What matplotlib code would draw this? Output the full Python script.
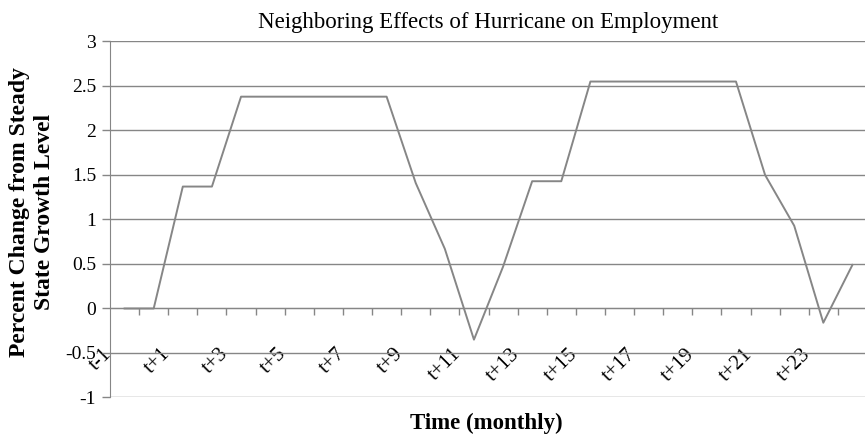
import numpy as np
import matplotlib.pyplot as plt
from matplotlib.ticker import FixedLocator, NullFormatter
import matplotlib.transforms as mtransforms

plt.rcParams['font.family'] = ['Liberation Serif', 'DejaVu Serif']

# ------------------------------
# Data
# ------------------------------
months = ['t-1', 't'] + ['t+%d' % k for k in range(1, 25)]
pct_change = [0.0, 0.0, 1.37, 1.37, 2.38, 2.38, 2.38, 2.38, 2.38, 2.38,
              1.41, 0.67, -0.35, 0.47, 1.43, 1.43, 2.55, 2.55, 2.55, 2.55,
              2.55, 2.55, 1.50, 0.93, -0.16, 0.49]
y_ticks = [-1, -0.5, 0, 0.5, 1, 1.5, 2, 2.5, 3]
y_tick_labels = ['-1', '-0.5', '0', '0.5', '1', '1.5', '2', '2.5', '3']

GRAY = '#868686'

fig = plt.figure(figsize=(8.65, 4.4), dpi=100)
ax = fig.add_axes([0.1272, 0.0966, 0.8751, 0.8091])

x = np.arange(len(months))
ax.plot(x, pct_change, color=GRAY, lw=1.4, zorder=3)

ax.set_xlim(-0.5, len(months) - 0.5)
ax.set_ylim(-1, 3)

# gridlines
ax.set_yticks(y_ticks)
ax.set_yticklabels(y_tick_labels, fontsize=14)
ax.yaxis.grid(True, color=GRAY, lw=1.0)
ax.set_axisbelow(True)
ax.tick_params(axis='y', length=6, width=1, color=GRAY, pad=4)

# category axis crosses at 0
for s in ['top', 'right']:
    ax.spines[s].set_visible(False)
ax.spines['left'].set_color(GRAY)
ax.spines['bottom'].set_color(GRAY)
ax.spines['bottom'].set_position(('data', 0))

# tick marks at category boundaries, labels every other category
ax.xaxis.set_major_locator(FixedLocator(np.arange(0.5, len(months) - 0.5, 1.0)))
ax.xaxis.set_major_formatter(NullFormatter())
ax.tick_params(axis='x', which='major', length=5, width=1, color=GRAY, direction='out')
lab_pos = x[::2]
ax.xaxis.set_minor_locator(FixedLocator(lab_pos))
ax.set_xticklabels([months[i] for i in lab_pos], minor=True, fontsize=15)
ax.tick_params(axis='x', which='minor', length=0, pad=26)
shift = mtransforms.ScaledTranslation(-16 / 72, 0, fig.dpi_scale_trans)
for lab in ax.get_xticklabels(minor=True):
    lab.set_rotation(45)
    lab.set_ha('right')
    lab.set_va('top')
    lab.set_rotation_mode('anchor')
    lab.set_transform(lab.get_transform() + shift)

ax.set_title('Neighboring Effects of Hurricane on Employment', fontsize=16.5, pad=10)
fig.text(0.562, 0.025, 'Time (monthly)', fontsize=16.5, fontweight='bold', ha='center')
fig.text(0.037, 0.518, 'Percent Change from Steady\nState Growth Level', fontsize=17,
         fontweight='bold', ha='center', va='center', rotation=90, linespacing=1.25)

fig.savefig('out.png', dpi=100)
